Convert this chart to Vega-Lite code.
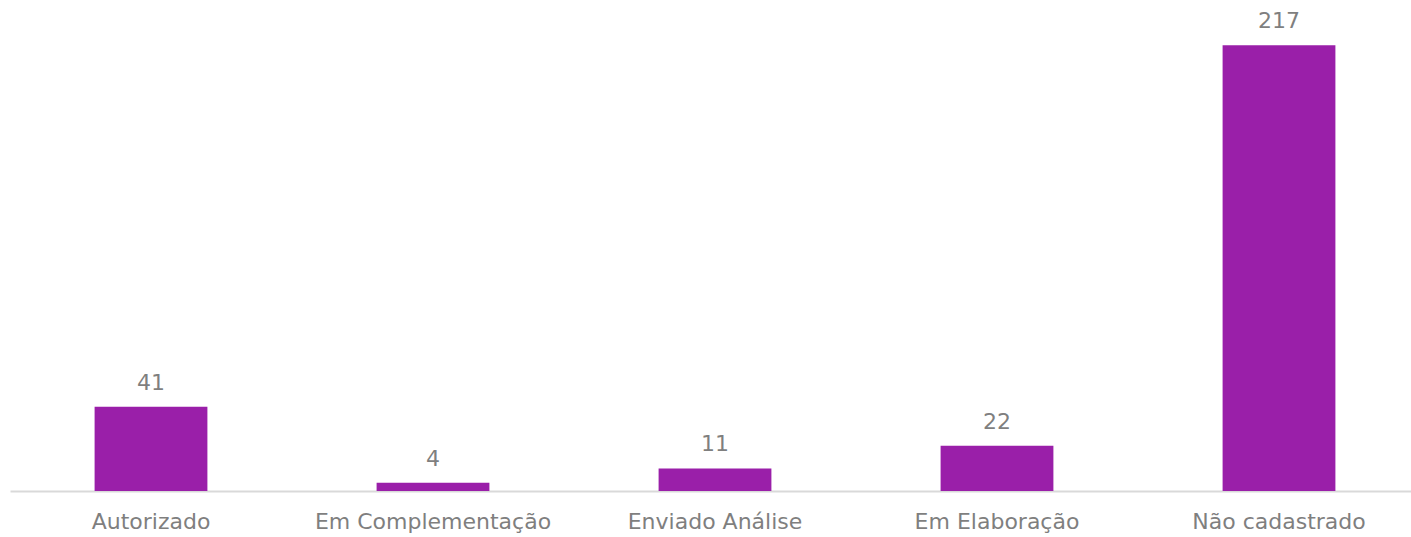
{
  "$schema": "https://vega.github.io/schema/vega-lite/v6.json",
  "autosize": {"type": "none"},
  "padding": {"left": 10, "top": 0, "right": 0, "bottom": 46},
  "width": 1410,
  "height": 491,
  "background": "white",
  "data": {"values": [
    {"status": "Autorizado", "count": 41},
    {"status": "Em Complementação", "count": 4},
    {"status": "Enviado Análise", "count": 11},
    {"status": "Em Elaboração", "count": 22},
    {"status": "Não cadastrado", "count": 217}
  ]},
  "config": {"view": {"stroke": null}, "font": "DejaVu Sans"},
  "encoding": {
    "x": {"field": "status", "type": "nominal", "sort": null,
      "scale": {"paddingInner": 0.6, "paddingOuter": 0.3},
      "axis": {"title": null, "labelAngle": 0, "ticks": false, "domainColor": "#d9d9d9", "domainWidth": 2, "labelLimit": 0,
        "labelColor": "#7f7f7f", "labelFontSize": 22, "labelPadding": 20, "labelFont": "DejaVu Sans", "labelFontWeight": "normal"}},
    "y": {"field": "count", "type": "quantitative", "scale": {"domain": [0, 239], "nice": false}, "axis": null}
  },
  "layer": [
    {"mark": {"type": "bar", "color": "#9a1fa9"}},
    {"mark": {"type": "text", "dy": -17, "baseline": "alphabetic", "fontSize": 22, "color": "#7f7f7f"}, "encoding": {"text": {"field": "count"}}}
  ]
}
